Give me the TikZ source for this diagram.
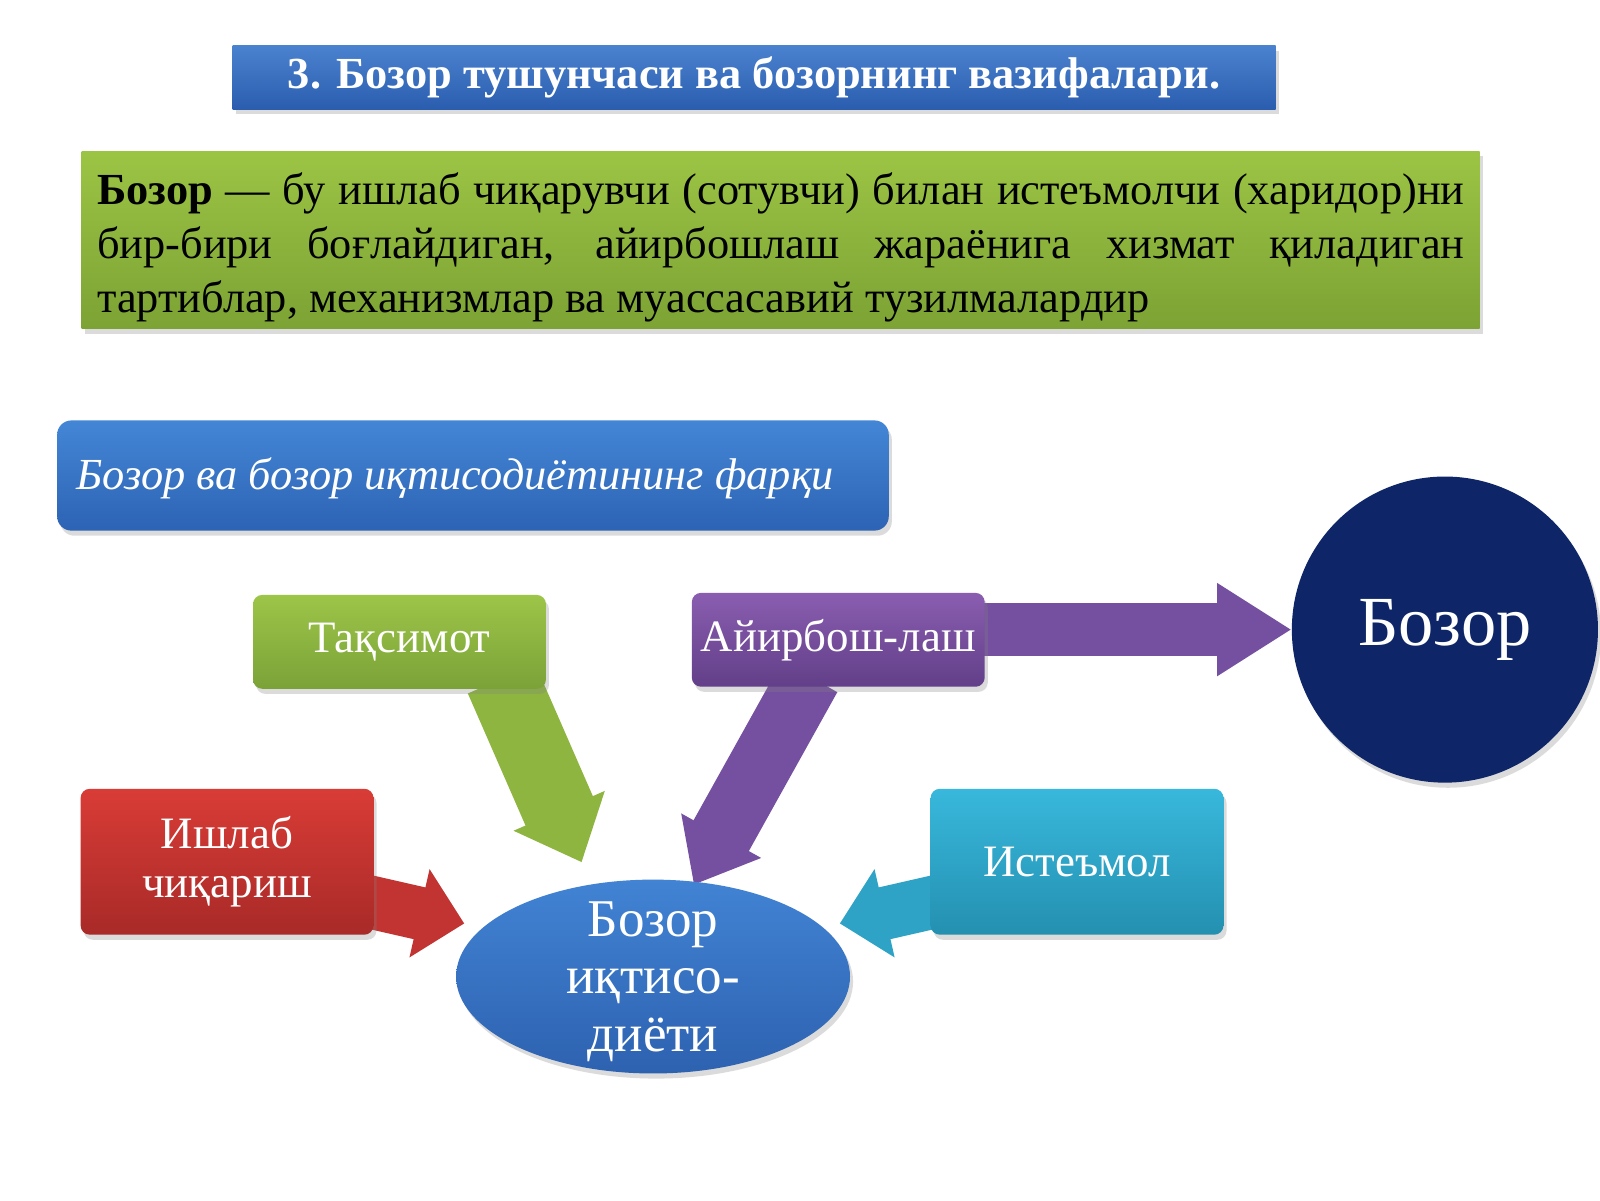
\documentclass[tikz,border=0pt]{standalone}
\usepackage{fontspec}
\setmainfont{Liberation Serif}
\usetikzlibrary{shapes.geometric,arrows.meta,shadows,backgrounds}
\definecolor{titleT}{HTML}{4A82CF}
\definecolor{titleB}{HTML}{2B5DAE}
\definecolor{defT}{HTML}{9CC444}
\definecolor{defB}{HTML}{7CA334}
\definecolor{blueT}{HTML}{4486D6}
\definecolor{blueB}{HTML}{2D63B4}
\definecolor{grnT}{HTML}{9DC548}
\definecolor{grnB}{HTML}{7AA238}
\definecolor{grnA}{HTML}{8DB53F}
\definecolor{purT}{HTML}{8A5DB0}
\definecolor{purB}{HTML}{623F88}
\definecolor{purA}{HTML}{7550A0}
\definecolor{navy}{HTML}{0E2667}
\definecolor{redT}{HTML}{D93C36}
\definecolor{redB}{HTML}{A82A28}
\definecolor{redA}{HTML}{C23431}
\definecolor{cyaT}{HTML}{38B8DC}
\definecolor{cyaB}{HTML}{2490B0}
\definecolor{cyaA}{HTML}{2EA3C6}
\definecolor{ellT}{HTML}{4283D4}
\definecolor{ellB}{HTML}{2D62B0}
\tikzset{
  shad/.style={drop shadow={shadow xshift=3pt,shadow yshift=-5pt,opacity=0.28}},
  boxA/.style={shad,rounded corners=9pt,minimum width=287pt,inner sep=4pt,align=center,text=white,font=\fontsize{44}{48}\selectfont},
  blk/.style={line cap=butt},
}
\begin{document}
\begin{tikzpicture}[x=1pt,y=-1pt]
\useasboundingbox (0,0) rectangle (1568,1176);

% title
\node[shad,top color=titleT,bottom color=titleB,minimum width=1022pt,minimum height=62pt,inner sep=0pt,text=white,font=\bfseries\fontsize{43.5}{48}\selectfont] (title) at (739,76) {\raisebox{-3pt}{3. Бозор тушунчаси ва бозорнинг вазифалари.}};

% definition
\node[shad,top color=defT,bottom color=defB,minimum width=1370pt,minimum height=174pt,inner sep=0pt] (def) at (765,235) {};
\node[text width=1340pt,align=justify,inner sep=0pt,font=\fontsize{43.5}{53}\selectfont,anchor=north west] (deftext) at (95,169)
 {\hyphenpenalty=10000\textbf{Бозор} — бу ишлаб чиқарувчи (сотувчи) билан истеъмолчи (харидор)ни\linebreak
 бир-бири боғлайдиган, айирбошлаш жараёнига хизмат қиладиган\linebreak
 тартиблар, механизмлар ва муассасавий тузилмалардир};

% subtitle
\node[shad,rounded corners=14pt,top color=blueT,bottom color=blueB,minimum width=815pt,minimum height=108pt,inner sep=0pt] (sub) at (463.5,466) {};
\node[anchor=west,inner sep=0pt,text=white,font=\itshape\fontsize{43.5}{48}\selectfont] (subtext) at (75,469) {Бозор ва бозор иқтисодиётининг фарқи};

% nodes
\node[boxA,top color=grnT,bottom color=grnB,minimum height=92pt] (taks) at (391.5,629) {Тақсимот};
\node[boxA,top color=purT,bottom color=purB,minimum height=92pt] (purp) at (821.5,627) {Айирбош-лаш};
\node[circle,shad,fill=navy,minimum size=300pt,inner sep=0pt,text=white,font=\fontsize{69}{74}\selectfont] (circ) at (1416,617) {Бозор};
\node[boxA,top color=redT,bottom color=redB,minimum height=143pt] (red) at (222.5,844.5) {Ишлаб\\чиқариш};
\node[boxA,top color=cyaT,bottom color=cyaB,minimum height=143pt] (cya) at (1055.5,844.5) {Истеъмол};
\node[ellipse,shad,top color=ellT,bottom color=ellB,minimum width=386pt,minimum height=190pt,inner sep=0pt] (ell) at (640,957) {};
\node[align=center,inner sep=0pt,text=white,font=\fontsize{52}{56}\selectfont] (elltext) at (640,962) {Бозор\\иқтисо-\\диёти};

\coordinate (gtip) at (570,845);
\coordinate (ptip) at (680,867);
\coordinate (rtip) at (455,905);
\coordinate (ctip) at (823,905);

\begin{scope}[on background layer]
\fill[white] (0,0) rectangle (1568,1176);
\draw[blk,draw=grnA,fill=grnA,line width=72pt,-{Triangle[length=55pt,width=94pt]}] ([xshift=100pt,yshift=10pt]taks.south) -- (gtip);
\draw[blk,draw=purA,fill=purA,line width=62pt,-{Triangle[length=55pt,width=86pt]}] ([xshift=-28pt,yshift=10pt]purp.south) -- (ptip);
\draw[blk,draw=purA,fill=purA,line width=52pt,-{Triangle[length=73pt,width=86pt]}] ([xshift=-5pt,yshift=10pt]purp.east) -- (circ.west);
\draw[blk,draw=redA,fill=redA,line width=52pt,-{Triangle[length=45pt,width=86pt]}] ([xshift=-10pt,yshift=-38pt]red.east) -- (rtip);
\draw[blk,draw=cyaA,fill=cyaA,line width=52pt,-{Triangle[length=45pt,width=86pt]}] ([xshift=10pt,yshift=-38pt]cya.west) -- (ctip);
\end{scope}
\end{tikzpicture}
\end{document}
